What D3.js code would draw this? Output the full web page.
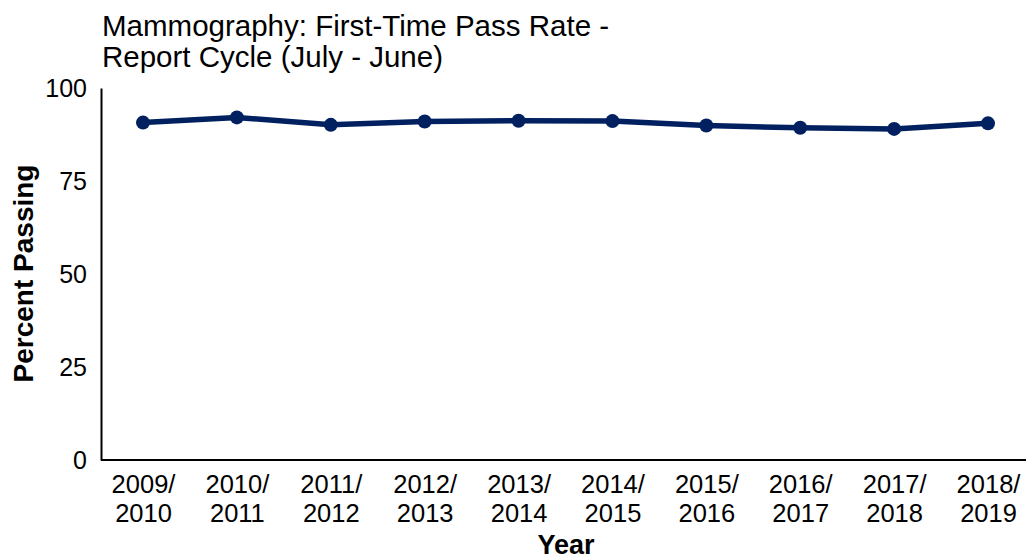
<!DOCTYPE html>
<html>
<head>
<meta charset="utf-8">
<script src="https://cdn.jsdelivr.net/npm/d3@7"></script>
<style>
  html, body { margin: 0; padding: 0; background: #fff; }
  svg { display: block; font-family: "Liberation Sans", Arial, sans-serif; }
</style>
</head>
<body>
<svg id="chart" width="1026" height="559"></svg>
<script>
const categories = ["2009/2010","2010/2011","2011/2012","2012/2013","2013/2014","2014/2015","2015/2016","2016/2017","2017/2018","2018/2019"];
const passRate = [90.7, 92.1, 90.1, 91.0, 91.2, 91.1, 89.9, 89.3, 89.0, 90.5];
const yTicks = [0, 25, 50, 75, 100];
const titleLines = ["Mammography: First-Time Pass Rate -", "Report Cycle (July - June)"];

const svg = d3.select("#chart");
const margin = {left: 101, right: 0, top: 88, bottom: 99};
const W = 1026, H = 559;

const x = d3.scalePoint().domain(categories).range([143, 988]);
const y = d3.scaleLinear().domain([0, 100]).range([460, 88]);

const color = "#002060";
const font = "Liberation Sans, Arial, sans-serif";

// title
svg.append("text")
  .attr("x", 102).attr("y", 36)
  .attr("font-size", 29.5).attr("fill", "#000")
  .selectAll("tspan").data(titleLines).join("tspan")
  .attr("x", 102).attr("dy", (d, i) => i === 0 ? 0 : 31)
  .text(d => d);

// y axis
const yAxis = d3.axisLeft(y).tickValues(yTicks).tickSize(0).tickPadding(14);
const gy = svg.append("g").attr("transform", `translate(${margin.left},0)`).call(yAxis);
gy.select(".domain").attr("stroke", "#000").attr("stroke-width", 2);
gy.selectAll("text").attr("font-size", 25).attr("font-family", font).attr("fill", "#000");

// x axis
const xAxis = d3.axisBottom(x).tickSize(0).tickPadding(0);
const gx = svg.append("g").attr("transform", `translate(0,${y(0)})`).call(xAxis);
gx.select(".domain").attr("d", `M${margin.left},0H${W}`).attr("stroke", "#000").attr("stroke-width", 2);
gx.selectAll(".tick text").each(function(d) {
  const t = d3.select(this);
  t.text(null).attr("y", 0).attr("dy", null)
   .attr("font-size", 25.5).attr("font-family", font).attr("fill", "#000");
  const parts = d.split("/");
  t.append("tspan").attr("x", 0).attr("y", 33).text(parts[0] + "/");
  t.append("tspan").attr("x", 0).attr("y", 62).text(parts[1]);
});

// axis titles
svg.append("text")
  .attr("x", 566).attr("y", 554)
  .attr("text-anchor", "middle").attr("font-size", 27).attr("font-weight", "bold")
  .text("Year");
svg.append("text")
  .attr("transform", `translate(33,273.5) rotate(-90)`)
  .attr("text-anchor", "middle").attr("font-size", 28).attr("font-weight", "bold")
  .text("Percent Passing");

// line
const data = categories.map((c, i) => ({c, v: passRate[i]}));
svg.append("path").datum(data)
  .attr("fill", "none").attr("stroke", color).attr("stroke-width", 5.5)
  .attr("d", d3.line().x(d => x(d.c)).y(d => y(d.v)));
svg.selectAll("circle.pt").data(data).join("circle")
  .attr("class", "pt")
  .attr("cx", d => x(d.c)).attr("cy", d => y(d.v)).attr("r", 7)
  .attr("fill", color);
</script>
</body>
</html>
